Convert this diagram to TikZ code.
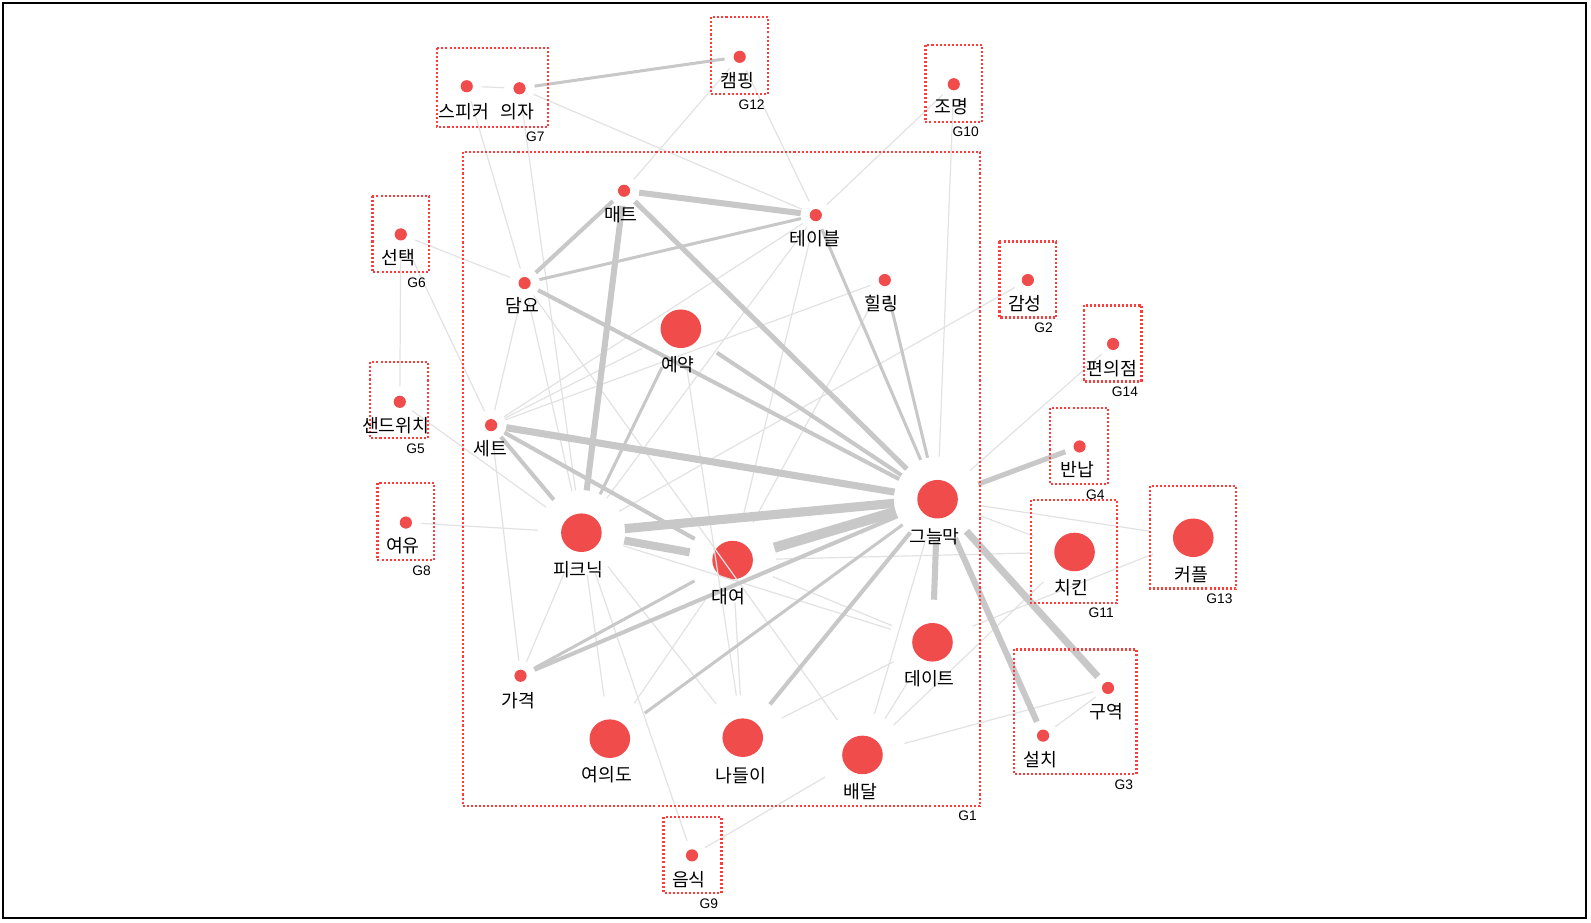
\documentclass[tikz,border=0pt]{standalone}
\usepackage{fontspec}
\setmainfont{Liberation Sans}
\newfontfamily\kr{Noto Sans CJK KR}
\usetikzlibrary{shapes.geometric}
\definecolor{dotred}{RGB}{240,76,76}
\definecolor{boxred}{RGB}{255,60,60}
\definecolor{edgegray}{RGB}{200,200,200}
\definecolor{faintgray}{RGB}{226,226,226}
\begin{document}
\begin{tikzpicture}[x=0.5pt,y=-0.5pt,
  sdot/.style={circle, fill=dotred, draw=none, minimum size=6pt, inner sep=0pt, outer sep=4.5pt},
  bdot/.style={ellipse, fill=dotred, draw=none, minimum width=20pt, minimum height=19pt, inner sep=0pt, outer sep=11.5pt},
  lbl/.style={font=\kr\fontsize{9pt}{10pt}\selectfont, inner sep=0pt, yshift=-0.6pt},
  glbl/.style={font=\fontsize{6.8pt}{7pt}\selectfont, inner sep=0pt, anchor=north east},
  grp/.style={draw=boxred, line width=1.1pt, dash pattern=on 1pt off 1pt},
  tedge/.style={draw=edgegray, line width=#1},
  fedge/.style={draw=faintgray, line width=0.6pt}
]
\useasboundingbox (0,0) rectangle (1568,909);
\draw[line width=0.8pt, black] (3,3) rectangle (1563,905);

% small nodes
\node[sdot] (skr)  at (460,85) {};
\node[sdot] (uija) at (512,87) {};
\node[sdot] (camp) at (729,56) {};
\node[sdot] (jomy) at (940,83) {};
\node[sdot] (maet) at (615,188) {};
\node[sdot] (tabl) at (804,212) {};
\node[sdot] (sent) at (395,231) {};
\node[sdot] (damy) at (517,279) {};
\node[sdot] (heal) at (872,276) {};
\node[sdot] (gams) at (1013,276) {};
\node[sdot] (pyeo) at (1097,339) {};
\node[sdot] (sand) at (394,396) {};
\node[sdot] (sete) at (484,419) {};
\node[sdot] (bann) at (1064,440) {};
\node[sdot] (yeoy) at (400,515) {};
\node[sdot] (gagy) at (513,666) {};
\node[sdot] (guyk) at (1092,678) {};
\node[sdot] (seol) at (1028,725) {};
\node[sdot] (eums) at (682,843) {};
% big nodes
\node[bdot] (yeyak) at (671,324) {};
\node[bdot] (gnl)   at (924,492) {};
\node[bdot] (picn)  at (573,525) {};
\node[bdot] (dae)   at (722,552) {};
\node[bdot] (date)  at (919,633) {};
\node[bdot] (yid)   at (601,728) {};
\node[bdot] (nad)   at (732,727) {};
\node[bdot] (baed)  at (850,744) {};
\node[bdot] (chik)  at (1059,544) {};
\node[bdot] (coup)  at (1176,530) {};

% faint edges
\foreach \a/\b in {skr/uija, skr/damy, uija/picn, uija/tabl, camp/maet, camp/tabl,
  jomy/tabl, jomy/gnl, sent/damy, sent/sand, sent/sete, sand/picn, yeoy/picn,
  sete/gagy, damy/sete, picn/gagy, picn/yid, picn/eums, picn/nad, dae/nad, dae/yid,
  dae/date, picn/date, baed/date, nad/date, baed/gnl, baed/guyk, baed/eums,
  sete/heal, sete/tabl, gams/picn, pyeo/gnl, gnl/coup, gnl/chik, dae/chik,
  coup/date, chik/baed, guyk/seol, yeyak/sete, yeyak/nad, heal/dae, tabl/dae,
  tabl/picn, damy/picn, damy/baed}
  \draw[fedge] (\a) -- (\b);

% heavier edges
\draw[tedge=1.5pt] (uija) -- (camp);
\draw[tedge=3pt] (maet) -- (tabl);
\draw[tedge=3pt] (maet) -- (picn);
\draw[tedge=2.5pt] (maet) -- (gnl);
\draw[tedge=2pt] (damy) -- (maet);
\draw[tedge=1.5pt] (damy) -- (tabl);
\draw[tedge=2pt] (damy) -- (gnl);
\draw[tedge=2pt] (yeyak) -- (gnl);
\draw[tedge=1.5pt] (yeyak) -- (picn);
\draw[tedge=1.5pt] (tabl) -- (gnl);
\draw[tedge=1.5pt] (heal) -- (gnl);
\draw[tedge=3.5pt] (sete) -- (gnl);
\draw[tedge=2pt] (sete) -- (picn);
\draw[tedge=2pt] (sete) -- (dae);
\draw[tedge=4.5pt] (picn) -- (gnl);
\draw[tedge=4pt] (picn) -- (dae);
\draw[tedge=5pt] (dae) -- (gnl);
\draw[tedge=2pt] (gagy) -- (gnl);
\draw[tedge=1.5pt] (gagy) -- (dae);
\draw[tedge=3pt] (gnl) -- (date);
\draw[tedge=3pt] (gnl) -- (seol);
\draw[tedge=3.5pt] (gnl) -- (guyk);
\draw[tedge=2.5pt] (gnl) -- (bann);
\draw[tedge=1.5pt] (yid) -- (gnl);
\draw[tedge=2pt] (nad) -- (gnl);

% group boxes
\draw[grp] (456,150) rectangle (966,794);
\draw[grp] (431,47) rectangle (540,125);
\draw[grp] (701,17) rectangle (757,93);
\draw[grp] (912,44) rectangle (968,120);
\draw[grp] (367,193) rectangle (423,268);
\draw[grp] (365,357) rectangle (422,432);
\draw[grp] (372,476) rectangle (428,552);
\draw[grp] (654,805) rectangle (711,880);
\draw[grp] (985,238) rectangle (1041,313);
\draw[grp] (1068,301) rectangle (1125,376);
\draw[grp] (1035,402) rectangle (1092,477);
\draw[grp] (1016,493) rectangle (1101,594);
\draw[grp] (1133,479) rectangle (1218,580);
\draw[grp] (999,640) rectangle (1120,763);

% group labels
\node[glbl] (g1)  at (963,799) {G1};
\node[glbl] (g7)  at (537,130) {G7};
\node[glbl] (g12) at (754,98)  {G12};
\node[glbl] (g10) at (965,125) {G10};
\node[glbl] (g6)  at (420,273) {G6};
\node[glbl] (g5)  at (419,437) {G5};
\node[glbl] (g8)  at (425,557) {G8};
\node[glbl] (g9)  at (708,885) {G9};
\node[glbl] (g2)  at (1038,318) {G2};
\node[glbl] (g14) at (1122,381) {G14};
\node[glbl] (g4)  at (1089,482) {G4};
\node[glbl] (g11) at (1098,599) {G11};
\node[glbl] (g13) at (1215,585) {G13};
\node[glbl] (g3)  at (1117,768) {G3};

% node labels
\node[lbl] (skr-t)  at (457,109) {스피커};
\node[lbl] (uija-t) at (510,109) {의자};
\node[lbl] (camp-t) at (727,78)  {캠핑};
\node[lbl] (jomy-t) at (938,104) {조명};
\node[lbl] (maet-t) at (612,210) {매트};
\node[lbl] (tabl-t) at (803,234) {테이블};
\node[lbl] (sent-t) at (393,253) {선택};
\node[lbl] (damy-t) at (515,300) {담요};
\node[lbl] (heal-t) at (869,298) {힐링};
\node[lbl] (gams-t) at (1010,298) {감성};
\node[lbl] (pyeo-t) at (1096,362) {편의점};
\node[lbl] (sand-t) at (390,418) {샌드위치};
\node[lbl] (sete-t) at (483,441) {세트};
\node[lbl] (bann-t) at (1062,462) {반납};
\node[lbl] (yeoy-t) at (397,537) {여유};
\node[lbl] (gagy-t) at (511,689) {가격};
\node[lbl] (guyk-t) at (1090,700) {구역};
\node[lbl] (seol-t) at (1025,747) {설치};
\node[lbl] (eums-t) at (679,866) {음식};
\node[lbl] (yeyak-t) at (668,358) {예약};
\node[lbl] (gnl-t)  at (921,528) {그늘막};
\node[lbl] (picn-t) at (570,560) {피크닉};
\node[lbl] (dae-t)  at (718,587) {대여};
\node[lbl] (date-t) at (916,668) {데이트};
\node[lbl] (yid-t)  at (598,762) {여의도};
\node[lbl] (nad-t)  at (730,763) {나들이};
\node[lbl] (baed-t) at (848,779) {배달};
\node[lbl] (chik-t) at (1056,578) {치킨};
\node[lbl] (coup-t) at (1174,565) {커플};
\end{tikzpicture}
\end{document}
